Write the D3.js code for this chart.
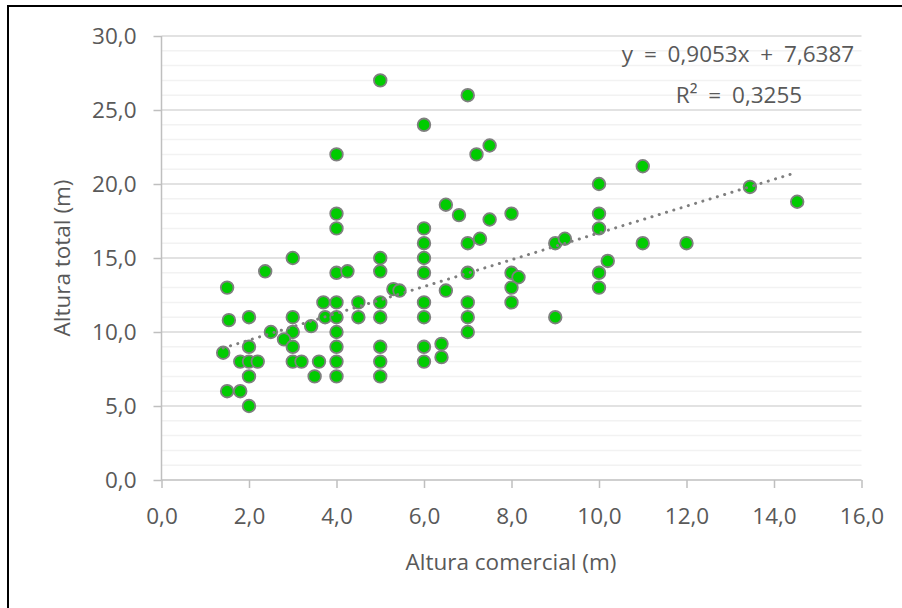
<html>
<head>
<script src="https://d3js.org/d3.v7.min.js"></script>
<style>
  body { margin: 0; background: #fff; }
  text { font-family: "Open Sans", "Noto Sans", sans-serif; fill: #595959; }
</style>
</head>
<body>
<script>
// Altura comercial (m)
const alturaComercial = [
  5, 4, 4, 7, 6, 7.2, 7.5, 6.5, 6.8, 7.5, 8, 10, 10,
  11, 13.45, 14.53, 10, 11, 12, 10.2, 10, 10,
  4, 3, 2.37, 4, 4.25, 5, 5, 1.5, 5.3, 5.44, 3.7, 4, 5, 4.5,
  1.54, 2, 3, 3.74, 4, 4.5, 5, 2.5, 3, 2.8, 3.42, 4, 1.41,
  2, 3, 4, 5, 1.8, 2, 2.2, 3, 3.2, 3.6, 4, 5, 2, 3.5, 4, 5,
  1.5, 1.8, 2,
  6, 6, 6, 6, 6, 6, 6, 6, 7, 7.28, 9, 9.22, 7, 8, 8.16, 8, 8, 9,
  6.5, 7, 7, 7, 6.4, 6.4
];
// Altura total (m)
const alturaTotal = [
  27, 22, 18, 26, 24, 22, 22.6, 18.6, 17.9, 17.6, 18, 20, 18,
  21.2, 19.8, 18.8, 17, 16, 16, 14.8, 14, 13,
  17, 15, 14.1, 14, 14.1, 15, 14.1, 13, 12.9, 12.8, 12, 12, 12, 12,
  10.8, 11, 11, 11, 11, 11, 11, 10, 10, 9.5, 10.4, 10, 8.6,
  9, 9, 9, 9, 8, 8, 8, 8, 8, 8, 8, 8, 7, 7, 7, 7,
  6, 6, 5,
  17, 16, 15, 14, 12, 11, 9, 8, 16, 16.3, 16, 16.3, 14, 14, 13.7, 13, 12, 11,
  12.8, 12, 11, 10, 9.2, 8.3
];
const xTicks = [0, 2, 4, 6, 8, 10, 12, 14, 16];
const yTicks = [0, 5, 10, 15, 20, 25, 30];
const slope = 0.9053, intercept = 7.6387;
const eqLabel = "y = 0,9053x + 7,6387";
const r2Label = "R² = 0,3255";

const fmt = d => d3.format(".1f")(d).replace(".", ",");
const fontSize = 22.5;

const svg = d3.select("body").append("svg").attr("width", 902).attr("height", 608);

// chart frame
svg.append("rect").attr("x", 8).attr("y", 6).attr("width", 1000).attr("height", 1000)
  .attr("fill", "#fff").attr("stroke", "#000").attr("stroke-width", 2);

let margin = {"top": 36, "left": 161.5};
let chartWidth = 700, chartHeight = 444;

const x = d3.scaleLinear().domain([0, 16]).range([margin.left, margin.left + chartWidth]);
const y = d3.scaleLinear().domain([0, 30]).range([margin.top + chartHeight, margin.top]);

// minor gridlines
svg.append("g").selectAll("line").data(d3.range(1, 30).filter(v => v % 5 != 0)).join("line")
  .attr("x1", x(0)).attr("x2", x(16)).attr("y1", d => y(d)).attr("y2", d => y(d))
  .attr("stroke", "#f2f2f2").attr("stroke-width", 1.5);
// major gridlines
svg.append("g").selectAll("line").data(yTicks.slice(1)).join("line")
  .attr("x1", x(0)).attr("x2", x(16)).attr("y1", d => y(d)).attr("y2", d => y(d))
  .attr("stroke", "#d9d9d9").attr("stroke-width", 1.5);

// axes
let leftAxis = d3.axisLeft(y).tickValues(yTicks).tickFormat(fmt).tickSize(8).tickPadding(17);
let gy = svg.append("g").attr("transform", "translate(" + x(0) + ",0)").call(leftAxis);
let bottomAxis = d3.axisBottom(x).tickValues(xTicks).tickFormat(fmt).tickSize(8);
let gx = svg.append("g").attr("transform", "translate(0," + y(0) + ")").call(bottomAxis);
[gx, gy].forEach(g => {
  g.attr("font-family", null).attr("font-size", null);
  g.select(".domain").remove();
  g.selectAll("line").attr("stroke", "#bfbfbf").attr("stroke-width", 1.5);
  g.selectAll("text").attr("font-size", fontSize).attr("fill", "#595959");
});
gy.selectAll("text").attr("dy", "0.35em");
gx.selectAll("text").attr("y", 44).attr("dy", 0);
svg.append("line").attr("x1", x(0)).attr("x2", x(0)).attr("y1", y(0)).attr("y2", y(30))
  .attr("stroke", "#bfbfbf").attr("stroke-width", 1.5);
svg.append("line").attr("x1", x(0)).attr("x2", x(16)).attr("y1", y(0)).attr("y2", y(0))
  .attr("stroke", "#bfbfbf").attr("stroke-width", 1.5);

// points
svg.append("g").selectAll("circle").data(alturaComercial).join("circle")
  .attr("cx", d => x(d)).attr("cy", (d, i) => y(alturaTotal[i])).attr("r", 6.3)
  .attr("fill", "#00cc00").attr("stroke", "#7f7f7f").attr("stroke-width", 1.8);

// trendline
const xExt = d3.extent(alturaComercial);
svg.append("line")
  .attr("x1", x(xExt[0])).attr("y1", y(slope * xExt[0] + intercept))
  .attr("x2", x(xExt[1])).attr("y2", y(slope * xExt[1] + intercept))
  .attr("stroke", "#7f7f7f").attr("stroke-width", 3)
  .attr("stroke-linecap", "round").attr("stroke-dasharray", "0.1 7.5");

// trendline label
svg.append("text").attr("x", 738).attr("y", 62).attr("text-anchor", "middle")
  .attr("font-size", fontSize).attr("word-spacing", 5).text(eqLabel);
svg.append("text").attr("x", 739).attr("y", 103).attr("text-anchor", "middle")
  .attr("font-size", fontSize).attr("word-spacing", 5).text(r2Label);

// axis titles
svg.append("text").attr("x", 511).attr("y", 570).attr("text-anchor", "middle")
  .attr("font-size", fontSize).text("Altura comercial (m)");
svg.append("text").attr("transform", "translate(70,258) rotate(-90)").attr("text-anchor", "middle")
  .attr("font-size", fontSize).text("Altura total (m)");
</script>
</body>
</html>
